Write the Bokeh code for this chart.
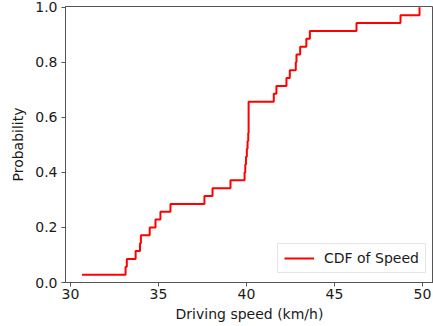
from bokeh.plotting import figure
from bokeh.models import Range1d, Legend, LegendItem, FixedTicker
from bokeh.embed import file_html
from bokeh.resources import INLINE

# Sorted driving speeds (km/h) read from the CDF steps
speeds = [30.66, 33.13, 33.20, 33.70, 33.95, 34.00, 34.50, 34.83, 35.11, 35.68,
          37.61, 38.07, 39.09, 39.89, 39.93, 39.97, 40.02, 40.06, 40.10, 40.12,
          40.12, 40.12, 40.12, 41.55, 41.70, 42.27, 42.46, 42.80, 42.84, 43.05,
          43.40, 43.60, 46.25, 48.75, 49.83]
n = len(speeds)
probs = [(i + 1) / n for i in range(n)]

x_ticks = [30, 35, 40, 45, 50]
y_ticks = [0.0, 0.2, 0.4, 0.6, 0.8, 1.0]

FONT = "DejaVu Sans"
SPINE = "#555555"
TEXT = "#1a1a1a"

p = figure(width=433, height=326, output_backend="svg", toolbar_location=None,
           x_range=Range1d(29.716, 50.625), y_range=Range1d(0.0, 1.003),
           min_border_left=65, min_border_right=0, min_border_top=6, min_border_bottom=44,
           frame_width=368, frame_height=276)
p.grid.visible = False
p.outline_line_color = SPINE
p.outline_line_width = 1

r = p.step(speeds, probs, mode="after", line_color="red", line_width=2)

for ax in (p.xaxis[0], p.yaxis[0]):
    ax.axis_line_color = SPINE
    ax.major_tick_line_color = SPINE
    ax.major_tick_out = 4
    ax.major_tick_in = 0
    ax.minor_tick_out = 0
    ax.minor_tick_in = 0
    ax.major_label_text_font = FONT
    ax.major_label_text_font_size = "14px"
    ax.major_label_text_color = TEXT
    ax.axis_label_text_font = FONT
    ax.axis_label_text_font_size = "14px"
    ax.axis_label_text_font_style = "normal"
    ax.axis_label_text_color = TEXT

p.xaxis[0].ticker = FixedTicker(ticks=x_ticks)
p.yaxis[0].ticker = FixedTicker(ticks=y_ticks)
p.xaxis[0].major_label_overrides = {t: str(t) for t in x_ticks}
p.yaxis[0].major_label_overrides = {t: f"{t:.1f}" for t in y_ticks}
p.xaxis[0].axis_label = "Driving speed (km/h)"
p.yaxis[0].axis_label = "Probability"
p.xaxis[0].major_label_standoff = 2
p.xaxis[0].axis_label_standoff = 4
p.yaxis[0].major_label_standoff = 4
p.yaxis[0].axis_label_standoff = 6

legend = Legend(items=[LegendItem(label="CDF of Speed", renderers=[r])],
                location=(212, 9))
legend.label_text_font = FONT
legend.label_text_font_size = "14px"
legend.label_text_color = TEXT
legend.border_line_color = "#cccccc"
legend.border_line_width = 1
legend.background_fill_color = "white"
legend.background_fill_alpha = 0.8
legend.glyph_width = 30
legend.glyph_height = 14
legend.label_height = 14
legend.label_standoff = 10
legend.padding = 6
legend.margin = 0
legend.spacing = 0
p.add_layout(legend)

open("out.html", "w").write(file_html(p, INLINE))
